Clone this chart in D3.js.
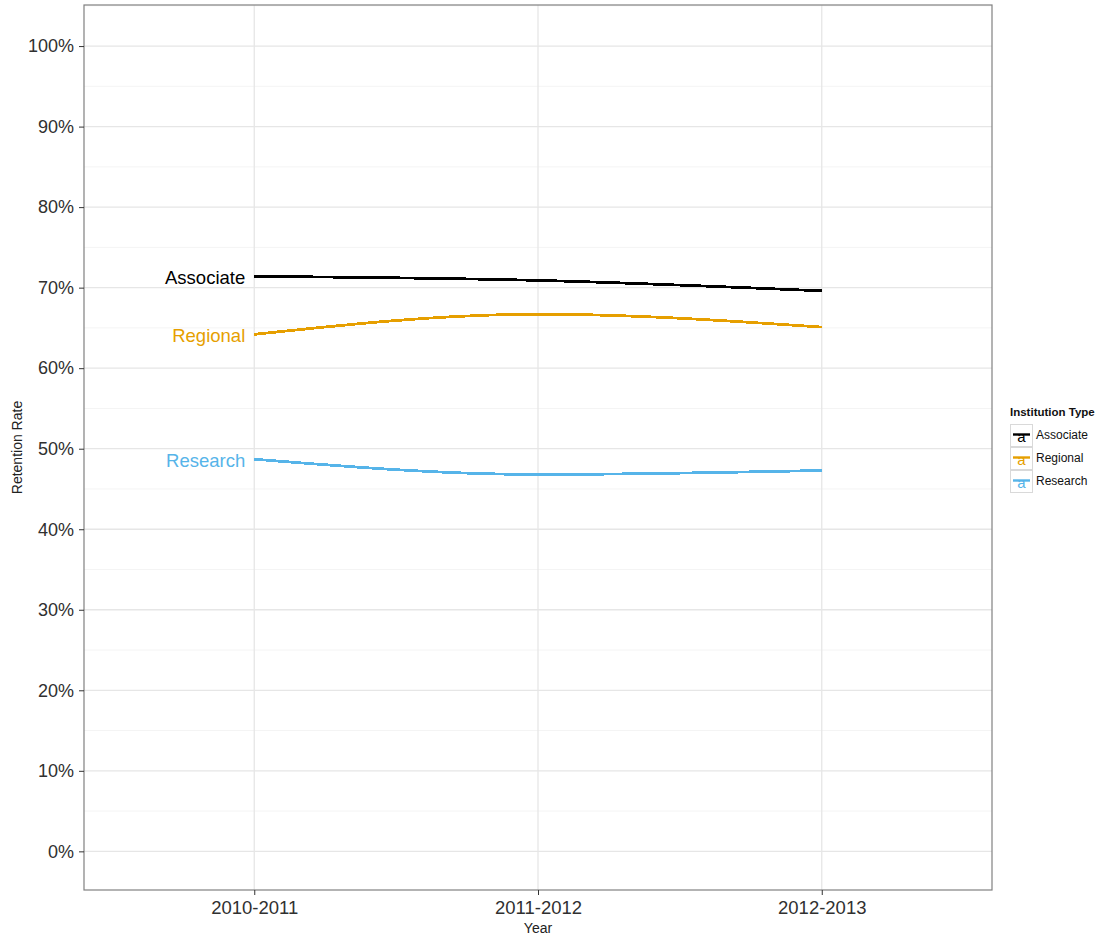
<!DOCTYPE html>
<html><head><meta charset="utf-8">
<script src="https://cdn.jsdelivr.net/npm/d3@7"></script>
<style>body{margin:0;background:#fff;}svg{font-family:"Liberation Sans",Arial,sans-serif;}</style>
</head><body>
<svg id="c" width="1110" height="938"></svg>
<script>
const years = ["2010-2011", "2011-2012", "2012-2013"];
const seriesNames = ["Associate", "Regional", "Research"];
const associate = [0.714, 0.709, 0.696];
const regional = [0.642, 0.667, 0.651];
const research = [0.487, 0.468, 0.473];
const colors = ["#000000", "#E69F00", "#56B4E9"];
const yTicks = [0, 0.1, 0.2, 0.3, 0.4, 0.5, 0.6, 0.7, 0.8, 0.9, 1.0];
const yMinor = [0.05, 0.15, 0.25, 0.35, 0.45, 0.55, 0.65, 0.75, 0.85, 0.95, 1.05];

const series = [associate, regional, research];
const svg = d3.select("#c");
const L = 84, R = 992, T = 5, B = 890;

const x = d3.scalePoint().domain(years).range([L, R]).padding(0.6);
const y = d3.scaleLinear().domain([-0.048, 1.051]).range([B, T]);

// panel background grid
const g = svg.append("g");
g.selectAll(".minor").data(yMinor.filter(v => y(v) > T)).join("line")
  .attr("x1", L).attr("x2", R).attr("y1", d => y(d)).attr("y2", d => y(d))
  .attr("stroke", "#f4f4f4").attr("stroke-width", 1);
g.selectAll(".major").data(yTicks).join("line")
  .attr("x1", L).attr("x2", R).attr("y1", d => y(d)).attr("y2", d => y(d))
  .attr("stroke", "#e6e6e6").attr("stroke-width", 1.3);
g.selectAll(".vmajor").data(years).join("line")
  .attr("x1", d => x(d)).attr("x2", d => x(d)).attr("y1", T).attr("y2", B)
  .attr("stroke", "#e6e6e6").attr("stroke-width", 1.3);

// lines
const line = d3.line().x((d, i) => x(years[i])).y(d => y(d)).curve(d3.curveMonotoneX);
series.forEach((s, k) => {
  svg.append("path").datum(s).attr("d", line)
    .attr("fill", "none").attr("stroke", colors[k]).attr("stroke-width", 2.8)
    .attr("shape-rendering", "crispEdges");
  svg.append("text").attr("x", x(years[0]) - 9).attr("y", y(s[0]))
    .attr("dy", "0.4em").attr("text-anchor", "end")
    .attr("font-size", 18.5).attr("fill", colors[k]).text(seriesNames[k]);
});

// panel border
svg.append("rect").attr("x", L).attr("y", T).attr("width", R - L).attr("height", B - T)
  .attr("fill", "none").attr("stroke", "#808080").attr("stroke-width", 1.2);

// axes
const yAxis = d3.axisLeft(y).tickValues(yTicks).tickFormat(d3.format(".0%")).tickSize(5).tickPadding(5);
const ya = svg.append("g").attr("transform", `translate(${L},0)`).call(yAxis);
ya.select(".domain").remove();
ya.selectAll("text").attr("font-size", 18).attr("fill", "#303030").attr("font-family", "Liberation Sans, Arial, sans-serif");
ya.selectAll(".tick line").attr("stroke", "#333");

const xAxis = d3.axisBottom(x).tickSize(5).tickPadding(6);
const xa = svg.append("g").attr("transform", `translate(0,${B})`).call(xAxis);
xa.select(".domain").remove();
xa.selectAll("text").attr("font-size", 18.5).attr("fill", "#303030").attr("font-family", "Liberation Sans, Arial, sans-serif");
xa.selectAll(".tick line").attr("stroke", "#333");

svg.append("text").attr("x", (L + R) / 2).attr("y", 933).attr("text-anchor", "middle")
  .attr("font-size", 14).attr("fill", "#222").text("Year");
svg.append("text").attr("transform", `translate(22,${(T + B) / 2}) rotate(-90)`)
  .attr("text-anchor", "middle").attr("font-size", 14).attr("fill", "#222").text("Retention Rate");

// legend
const lg = svg.append("g").attr("transform", "translate(1010,0)");
lg.append("text").attr("x", 0).attr("y", 416).attr("font-size", 11.5).attr("font-weight", "bold")
  .attr("fill", "#111").text("Institution Type");
seriesNames.forEach((n, k) => {
  const yy = 424 + k * 23;
  lg.append("rect").attr("x", 0.5).attr("y", yy + 0.5).attr("width", 22).attr("height", 22)
    .attr("fill", "#fff").attr("stroke", "#d9d9d9");
  lg.append("line").attr("x1", 3).attr("x2", 20).attr("y1", yy + 10.5).attr("y2", yy + 10.5)
    .attr("stroke", colors[k]).attr("stroke-width", 2.4);
  lg.append("text").attr("x", 11.5).attr("y", yy + 18).attr("text-anchor", "middle")
    .attr("font-size", 15).attr("fill", colors[k]).text("a");
  lg.append("text").attr("x", 26).attr("y", yy + 15).attr("font-size", 12).attr("fill", "#111").text(n);
});
</script>
</body></html>
